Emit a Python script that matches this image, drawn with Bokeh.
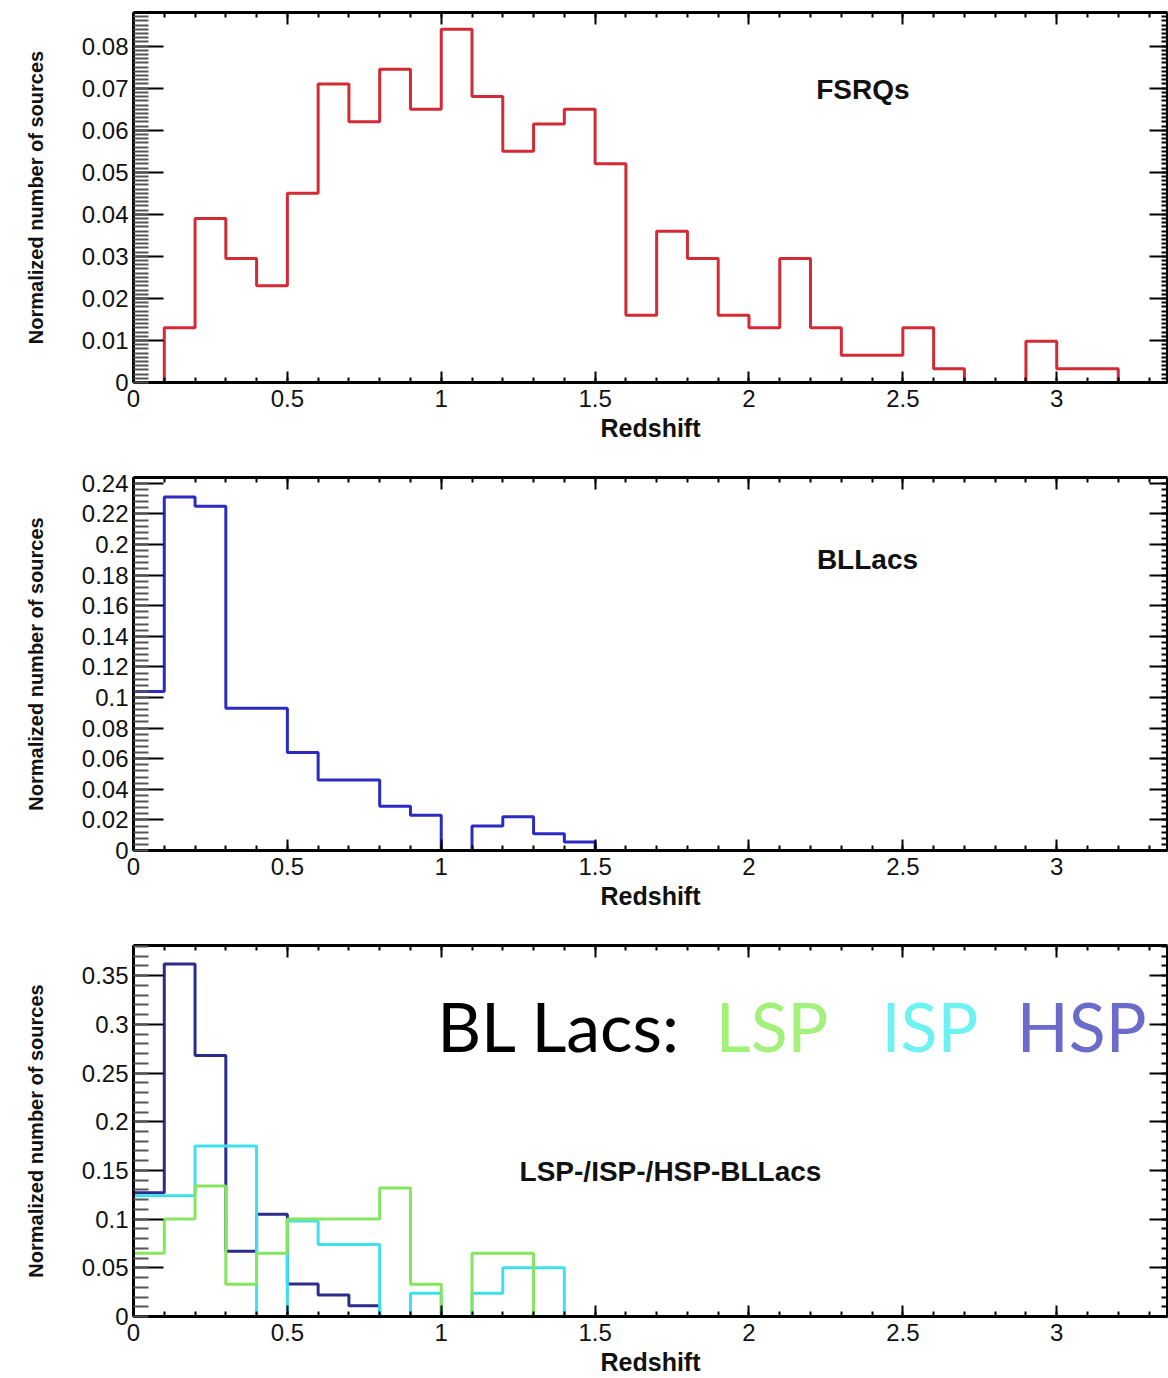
import numpy as np
from bokeh.plotting import figure
from bokeh.layouts import column
from bokeh.models import LinearAxis, FixedTicker, Label, Range1d, CustomLabelingPolicy
from bokeh.embed import file_html
from bokeh.resources import INLINE

# ---------------- data ----------------
bin_width = 0.1
n_bins = 34
bin_edges = np.round(np.arange(n_bins + 1) * bin_width, 2)

fsrq = [0.0, 0.013, 0.039, 0.0295, 0.023, 0.045, 0.071, 0.062, 0.0745, 0.065,
        0.084, 0.068, 0.055, 0.0615, 0.065, 0.052, 0.016, 0.036, 0.0295, 0.016,
        0.013, 0.0295, 0.013, 0.0065, 0.0065, 0.013, 0.0033, 0.0, 0.0, 0.0098,
        0.0033, 0.0033, 0.0, 0.0]

bllac = [0.104, 0.231, 0.225, 0.093, 0.093, 0.064, 0.046, 0.046, 0.029, 0.023,
         0.0, 0.016, 0.022, 0.011, 0.0055, 0.0, 0.0, 0.0, 0.0, 0.0,
         0.0, 0.0, 0.0, 0.0, 0.0, 0.0, 0.0, 0.0, 0.0, 0.0,
         0.0, 0.0, 0.0, 0.0]

hsp = [0.127, 0.362, 0.268, 0.067, 0.105, 0.0335, 0.022, 0.011, 0.0, 0.0,
       0.0, 0.0, 0.0, 0.0, 0.0, 0.0, 0.0, 0.0, 0.0, 0.0,
       0.0, 0.0, 0.0, 0.0, 0.0, 0.0, 0.0, 0.0, 0.0, 0.0,
       0.0, 0.0, 0.0, 0.0]

isp = [0.124, 0.124, 0.175, 0.175, 0.0, 0.098, 0.074, 0.074, 0.0, 0.024,
       0.0, 0.024, 0.05, 0.05, 0.0, 0.0, 0.0, 0.0, 0.0, 0.0,
       0.0, 0.0, 0.0, 0.0, 0.0, 0.0, 0.0, 0.0, 0.0, 0.0,
       0.0, 0.0, 0.0, 0.0]

lsp = [0.065, 0.1, 0.134, 0.033, 0.065, 0.1, 0.1, 0.1, 0.132, 0.033,
       0.0, 0.065, 0.065, 0.0, 0.0, 0.0, 0.0, 0.0, 0.0, 0.0,
       0.0, 0.0, 0.0, 0.0, 0.0, 0.0, 0.0, 0.0, 0.0, 0.0,
       0.0, 0.0, 0.0, 0.0]

x_tick_labels = ["0", "0.5", "1", "1.5", "2", "2.5", "3"]
y1_tick_labels = ["0", "0.01", "0.02", "0.03", "0.04", "0.05", "0.06", "0.07", "0.08"]
y2_tick_labels = ["0", "0.02", "0.04", "0.06", "0.08", "0.1", "0.12", "0.14",
                  "0.16", "0.18", "0.2", "0.22", "0.24"]
y3_tick_labels = ["0", "0.05", "0.1", "0.15", "0.2", "0.25", "0.3", "0.35"]

# ---------------- styling ----------------
FONT = "Liberation Sans"
X_END = 3.36


def step_xy(vals):
    return list(bin_edges), list(vals) + [vals[-1]]


def mirror_axis(ticks, minor, tick_in, minor_in):
    return LinearAxis(ticker=FixedTicker(ticks=ticks, minor_ticks=minor),
                      major_label_policy=CustomLabelingPolicy(code="return []"),
                      major_label_text_font_size="0px", major_label_standoff=0,
                      axis_line_width=3, major_tick_in=tick_in, major_tick_out=0,
                      minor_tick_in=minor_in, minor_tick_out=0,
                      major_tick_line_width=2, minor_tick_line_width=2)


def make_panel(height, y_end, y_labels, y_minor_step, border_bottom):
    p = figure(width=1168, height=height,
               x_range=Range1d(0, X_END), y_range=Range1d(0, y_end),
               output_backend="svg", toolbar_location=None,
               min_border_left=133, min_border_right=1,
               min_border_top=12, min_border_bottom=border_bottom)
    p.grid.visible = False
    p.outline_line_color = None
    p.background_fill_color = "white"
    p.border_fill_color = "white"

    xt = [float(s) for s in x_tick_labels]
    x_minor = list(np.round(np.arange(0, X_END, 0.1), 2))
    yt = [float(s) for s in y_labels]
    y_minor = list(np.round(np.arange(0, y_end, y_minor_step), 4))

    xa = p.xaxis[0]
    xa.ticker = FixedTicker(ticks=xt, minor_ticks=x_minor)
    xa.major_label_overrides = {v: s for v, s in zip(xt, x_tick_labels)}
    xa.axis_label = "Redshift"

    ya = p.yaxis[0]
    ya.ticker = FixedTicker(ticks=yt, minor_ticks=y_minor)
    ya.major_label_overrides = {v: s for v, s in zip(yt, y_labels)}
    ya.axis_label = "Normalized number of sources"

    for ax in (xa, ya):
        ax.axis_line_width = 3
        ax.axis_line_color = "black"
        ax.major_tick_line_width = 2
        ax.minor_tick_line_width = 2
        ax.major_tick_out = 0
        ax.minor_tick_out = 0
        ax.major_label_text_font = FONT
        ax.major_label_text_font_size = "24px"
        ax.major_label_text_color = "#111111"
        ax.axis_label_text_font = FONT
        ax.axis_label_text_font_style = "bold"
        ax.axis_label_text_color = "#111111"
    xa.major_tick_in = 11
    xa.minor_tick_in = 5
    xa.major_label_standoff = 7
    xa.axis_label_text_font_size = "25px"
    xa.axis_label_standoff = 4
    ya.major_tick_in = 30
    ya.minor_tick_in = 15
    ya.minor_tick_line_color = "#555555"
    ya.major_label_standoff = 5
    ya.axis_label_text_font_size = "20px"
    ya.axis_label_standoff = 32

    p.add_layout(mirror_axis(xt, x_minor, 12, 5), "above")
    p.add_layout(mirror_axis(yt, y_minor, 18, 6), "right")
    return p


def panel_label(p, x, y, text):
    p.add_layout(Label(x=x, y=y, text=text, text_font=FONT, text_font_style="bold",
                       text_font_size="28px", text_color="#111111",
                       text_align="center", text_baseline="middle"))


# ---------------- panel 1: FSRQs ----------------
p1 = make_panel(465, 0.088, y1_tick_labels, 0.001, 83)
x, y = step_xy(fsrq)
p1.step(x, y, mode="after", line_color="#d42a36", line_width=3)
panel_label(p1, 2.37, 0.0697, "FSRQs")

# ---------------- panel 2: BLLacs ----------------
p2 = make_panel(468, 0.2438, y2_tick_labels, 0.004, 83)
x, y = step_xy(bllac)
p2.step(x, y, mode="after", line_color="#2b2bc4", line_width=3)
panel_label(p2, 2.385, 0.1905, "BLLacs")

# ---------------- panel 3: LSP/ISP/HSP ----------------
p3 = make_panel(445, 0.381, y3_tick_labels, 0.01, 60)
for vals, col in ((hsp, "#2c2c8c"), (isp, "#3ee0ee"), (lsp, "#84e65e")):
    x, y = step_xy(vals)
    p3.step(x, y, mode="after", line_color=col, line_width=3)
panel_label(p3, 1.745, 0.1486, "LSP-/ISP-/HSP-BLLacs")

for txt, xc, col in (("BL Lacs:", 1.383, "#000000"), ("LSP", 2.075, "#a3f07a"),
                     ("ISP", 2.588, "#6cf2f2"), ("HSP", 3.081, "#6b6bcc")):
    p3.add_layout(Label(x=xc, y=0.299, text=txt, text_font="Lato",
                        text_font_size="68px", text_color=col,
                        text_align="center", text_baseline="middle"))

layout = column(p1, p2, p3, spacing=0)
open("out.html", "w").write(file_html(layout, INLINE))
